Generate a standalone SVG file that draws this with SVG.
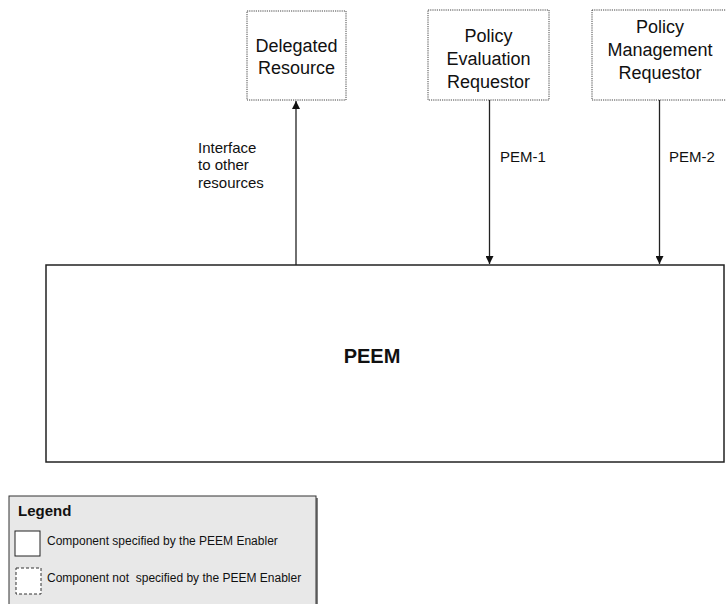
<svg xmlns="http://www.w3.org/2000/svg" width="726" height="604" viewBox="0 0 726 604">
  <defs>
    <style>
      .ext { fill: #ffffff; stroke: #444; stroke-width: 1; stroke-dasharray: 1.2 1; }
      .core { fill: #ffffff; stroke: #222; stroke-width: 1.5; }
      .box-label { font-family: "Liberation Sans", Arial, sans-serif; font-size: 18px; fill: #111; text-anchor: middle; }
      .label { font-family: "Liberation Sans", Arial, sans-serif; font-size: 15px; fill: #111; }
      .title { font-family: "Liberation Sans", Arial, sans-serif; font-size: 20px; font-weight: bold; fill: #111; text-anchor: middle; }
      .conn { stroke: #222; stroke-width: 1.3; fill: none; }
      .legend-text { font-family: "Liberation Sans", Arial, sans-serif; font-size: 12px; fill: #111; white-space: pre; }
    </style>
    <marker id="arrow" viewBox="0 0 10 10" refX="10" refY="5" markerWidth="8" markerHeight="8" markerUnits="userSpaceOnUse" orient="auto">
      <path d="M0,0 L10,5 L0,10 z" fill="#111"/>
    </marker>
  </defs>

  <rect width="726" height="604" fill="#ffffff"/>

  <!-- External components -->
  <g id="delegated-resource">
    <rect class="ext" x="247" y="11" width="99" height="89"/>
    <text class="box-label" x="296.5" y="52">Delegated</text>
    <text class="box-label" x="296.5" y="74">Resource</text>
  </g>

  <g id="policy-evaluation-requestor">
    <rect class="ext" x="428" y="10" width="121" height="90"/>
    <text class="box-label" x="488.5" y="42">Policy</text>
    <text class="box-label" x="488.5" y="65">Evaluation</text>
    <text class="box-label" x="488.5" y="88">Requestor</text>
  </g>

  <g id="policy-management-requestor">
    <rect class="ext" x="592" y="10" width="136" height="90"/>
    <text class="box-label" x="660" y="33">Policy</text>
    <text class="box-label" x="660" y="56">Management</text>
    <text class="box-label" x="660" y="79">Requestor</text>
  </g>

  <!-- Enabler -->
  <g id="peem">
    <rect class="core" x="46" y="265" width="678" height="197"/>
    <text class="title" x="372" y="363">PEEM</text>
  </g>

  <!-- Interfaces -->
  <g id="connectors">
    <line class="conn" x1="296" y1="265" x2="296" y2="101" marker-end="url(#arrow)"/>
    <line class="conn" x1="489.5" y1="100" x2="489.5" y2="264" marker-end="url(#arrow)"/>
    <line class="conn" x1="659.5" y1="100" x2="659.5" y2="264" marker-end="url(#arrow)"/>
    <text class="label" x="198" y="153">Interface</text>
    <text class="label" x="198" y="170">to other</text>
    <text class="label" x="198" y="188">resources</text>
    <text class="label" x="500" y="162">PEM-1</text>
    <text class="label" x="669" y="162">PEM-2</text>
  </g>

  <!-- Legend -->
  <g id="legend">
    <rect x="11" y="498" width="307" height="110" fill="#808080"/>
    <rect x="9" y="496" width="307" height="110" fill="#e8e8e8" stroke="#333" stroke-width="1"/>
    <text x="18" y="516" font-family="'Liberation Sans', Arial, sans-serif" font-size="15" font-weight="bold" fill="#111">Legend</text>
    <rect x="15" y="531" width="25" height="25" fill="#ffffff" stroke="#222" stroke-width="1"/>
    <text class="legend-text" x="47" y="545">Component specified by the PEEM Enabler</text>
    <rect x="16" y="568" width="25" height="26" fill="#ffffff" stroke="#333" stroke-width="1" stroke-dasharray="3 2"/>
    <text class="legend-text" x="47" y="582" xml:space="preserve">Component not  specified by the PEEM Enabler</text>
  </g>
</svg>
